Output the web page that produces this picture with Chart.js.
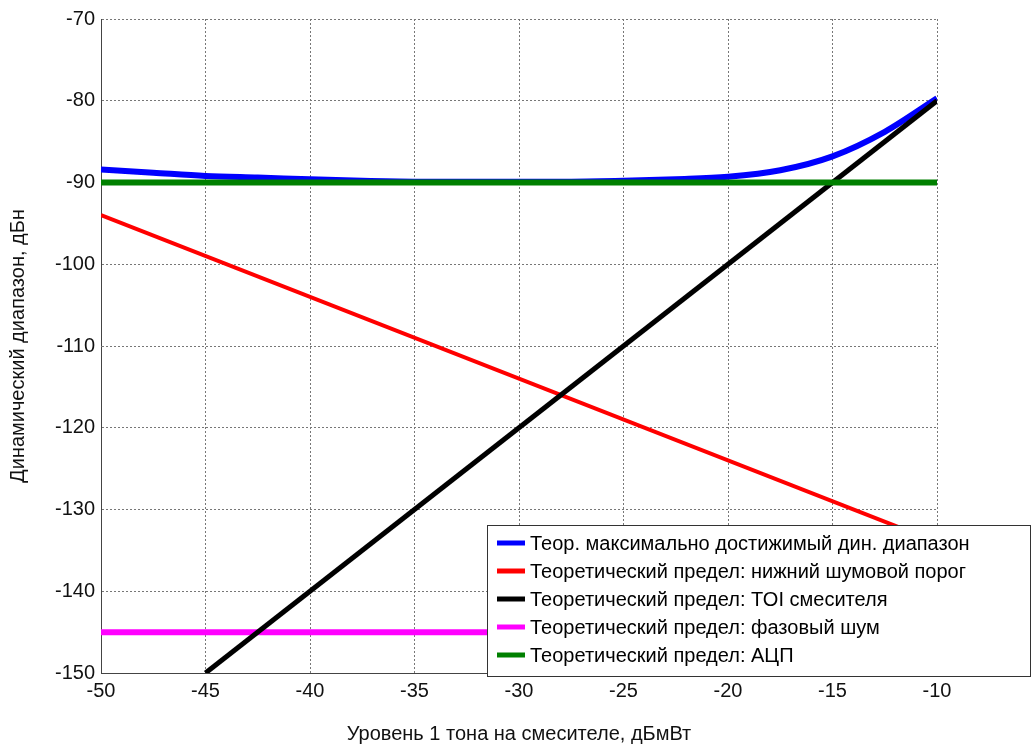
<!DOCTYPE html>
<html>
<head>
<meta charset="utf-8">
<script src="https://cdn.jsdelivr.net/npm/chart.js@4.4.0/dist/chart.umd.min.js"></script>
<style>
  html, body { margin: 0; padding: 0; background: #fff; }
  #wrap { width: 1034px; height: 748px; }
</style>
</head>
<body>
<div id="wrap"><canvas id="dynRange" width="1034" height="748"></canvas></div>
<script>
/* ── Data ─────────────────────────────────────────────────── */
const X_TICKS = [-50, -45, -40, -35, -30, -25, -20, -15, -10];
const Y_TICKS = [-150, -140, -130, -120, -110, -100, -90, -80, -70];

// Теор. максимально достижимый дин. диапазон
const maxRangeX = [-50, -47.5, -45, -42.5, -40, -37.5, -35, -32.5, -30, -27.5, -25, -22.5, -20, -17.5, -15, -12.5, -10];
const maxRangeY = [-88.4, -88.8, -89.2, -89.4, -89.6, -89.8, -89.9, -89.9, -89.9, -89.9, -89.8, -89.6, -89.3, -88.5, -86.8, -83.8, -79.7];

// нижний шумовой порог
const noiseX = [-50, -10];
const noiseY = [-94, -134];

// TOI смесителя
const toiX = [-45, -10];
const toiY = [-150, -80];

// фазовый шум
const phaseX = [-50, -10];
const phaseY = [-145, -145];

// АЦП
const adcX = [-50, -10];
const adcY = [-90, -90];

const LABELS = [
    'Теор. максимально достижимый дин. диапазон',
    'Теоретический предел: нижний шумовой порог',
    'Теоретический предел: TOI смесителя',
    'Теоретический предел: фазовый шум',
    'Теоретический предел: АЦП'
];

/* ── Helpers ──────────────────────────────────────────────── */
const FONT = "Arial, 'Liberation Sans', sans-serif";
const GRID = '#777777';

const pts = (xs, ys) => xs.map((x, i) => ({ x, y: ys[i] }));

function series(label, xs, ys, color, width, order, smooth) {
    return {
        label,
        data: pts(xs, ys),
        borderColor: color,
        backgroundColor: color,
        borderWidth: width,
        pointRadius: 0,
        fill: false,
        order,
        tension: smooth ? 0.4 : 0,
        cubicInterpolationMode: smooth ? 'monotone' : 'default'
    };
}

// legend box overlaid on the lower right, like the MATLAB one
const boxLegend = {
    id: 'boxLegend',
    afterDraw(chart) {
        const c = chart.ctx;
        const x0 = 487, y0 = 525, w = 543, h = 151;
        c.save();
        c.fillStyle = '#fff';
        c.fillRect(x0, y0, w, h);
        c.strokeStyle = '#333';
        c.lineWidth = 1;
        c.strokeRect(x0 + 0.5, y0 + 0.5, w, h);
        c.font = '20px ' + FONT;
        c.textBaseline = 'middle';
        c.fillStyle = '#000';
        chart.data.datasets.forEach((ds, i) => {
            const y = 543 + i * 28;
            c.strokeStyle = ds.borderColor;
            c.lineWidth = 5;
            c.beginPath();
            c.moveTo(497, y);
            c.lineTo(525, y);
            c.stroke();
            c.fillText(ds.label, 530, y + 1);
        });
        c.restore();
    }
};

/* ── Chart ────────────────────────────────────────────────── */
new Chart(document.getElementById('dynRange'), {
    type: 'line',
    data: {
        datasets: [
            series(LABELS[0], maxRangeX, maxRangeY, '#0000ff', 6, 4, true),
            series(LABELS[1], noiseX, noiseY, '#ff0000', 4, 2, false),
            series(LABELS[2], toiX, toiY, '#000000', 5, 1, false),
            series(LABELS[3], phaseX, phaseY, '#ff00ff', 6, 3, false),
            series(LABELS[4], adcX, adcY, '#008000', 6, 0, false)
        ]
    },
    options: {
        responsive: false,
        animation: false,
        layout: { padding: { top: 19, right: 97, left: 0, bottom: 0 } },
        plugins: {
            legend: { display: false },
            tooltip: { enabled: false }
        },
        scales: {
            x: {
                type: 'linear',
                min: -50,
                max: -10,
                afterBuildTicks: axis => { axis.ticks = X_TICKS.map(v => ({ value: v })); },
                afterFit: axis => { axis.height = 75; },
                grid: { color: GRID, drawTicks: false, lineWidth: 1 },
                border: { display: true, color: '#444', dash: [2, 2] },
                ticks: { color: '#111', font: { family: FONT, size: 20 }, padding: 6, maxRotation: 0 },
                title: {
                    display: true,
                    text: 'Уровень 1 тона на смесителе, дБмВт',
                    color: '#111',
                    font: { family: FONT, size: 20 },
                    padding: { top: 0, bottom: 2 }
                }
            },
            y: {
                type: 'linear',
                min: -150,
                max: -70,
                afterBuildTicks: axis => { axis.ticks = Y_TICKS.map(v => ({ value: v })); },
                afterFit: axis => { axis.width = 101; },
                grid: { color: GRID, drawTicks: false, lineWidth: 1 },
                border: { display: true, color: '#444', dash: [2, 2] },
                ticks: { color: '#111', font: { family: FONT, size: 20 }, padding: 6 },
                title: {
                    display: true,
                    text: 'Динамический диапазон, дБн',
                    color: '#111',
                    font: { family: FONT, size: 20 },
                    padding: { top: 6, bottom: 0 }
                }
            }
        }
    },
    plugins: [boxLegend]
});
</script>
</body>
</html>
